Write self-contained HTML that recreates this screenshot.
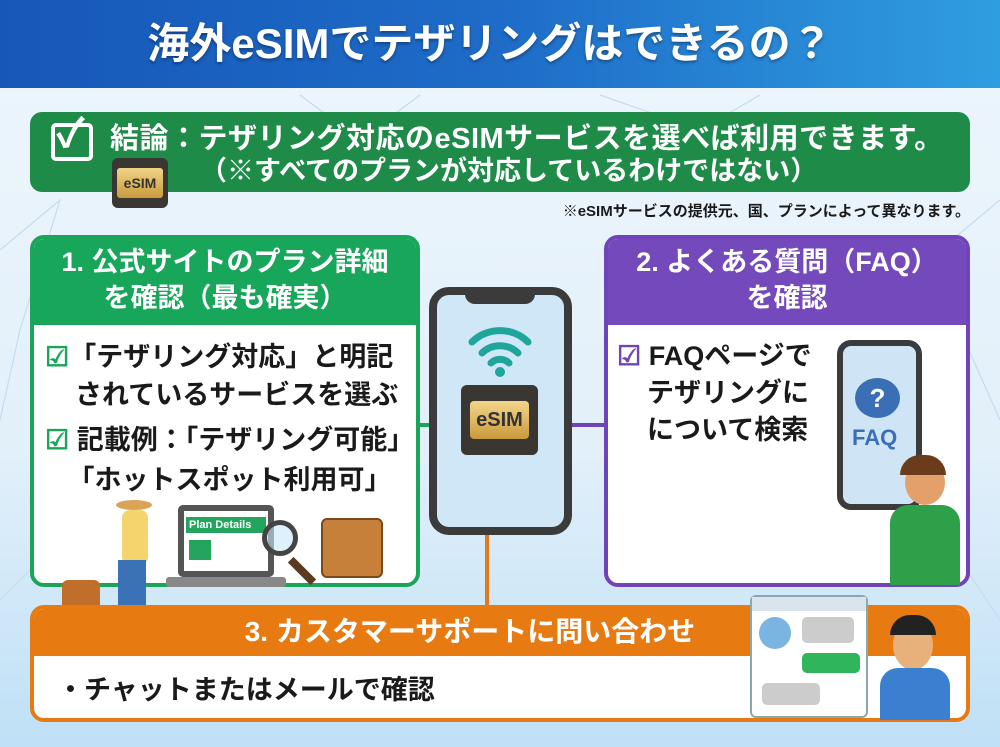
<!DOCTYPE html>
<html><head><meta charset="utf-8">
<style>
*{margin:0;padding:0;box-sizing:border-box}
body{width:1000px;height:747px;overflow:hidden;position:relative;background:linear-gradient(#eef6fc,#e2f0fa 60%,#bfe0f6);font-family:"Liberation Sans","Noto Sans CJK JP",sans-serif;font-weight:bold}
.a{position:absolute;white-space:nowrap}
.t{color:#fff}
.k{color:#1a1a1a}
</style></head><body>
<svg class="a" style="left:0;top:0" width="1000" height="747">
<g stroke="#c4dcef" stroke-width="1.2" fill="none">
<path d="M0 250 L60 200 L20 330 L0 420 M940 250 L1000 200 M960 330 L1000 420 M0 600 L40 560 M960 560 L1000 620 M300 95 L360 140 L420 95 M600 95 L700 130 L760 95"/>
</g>
</svg>
<div class="a" style="left:0;top:0;width:1000px;height:88px;background:linear-gradient(90deg,#1757b8,#1e6cc8 50%,#2f9ee0)"></div>
<div class="a t" style="left:0;top:16px;width:980px;text-align:center;font-size:42px;line-height:56px;text-shadow:0 2px 3px rgba(0,0,0,.35)">海外eSIMでテザリングはできるの？</div>

<div class="a" style="left:30px;top:112px;width:940px;height:80px;background:#1e8b48;border-radius:12px"></div>
<div class="a" style="left:51px;top:123px;width:42px;height:38px;border:4px solid #fff;border-radius:5px"></div>
<div class="a t" style="left:56px;top:110px;font-size:40px;line-height:48px">✓</div>
<div class="a t" style="left:110px;top:120px;font-size:29px;line-height:38px;letter-spacing:0.5px">結論：テザリング対応のeSIMサービスを選べば利用できます。</div>
<div class="a t" style="left:200px;top:153px;font-size:27px;line-height:36px">（※すべてのプランが対応しているわけではない）</div>
<div class="a" style="left:112px;top:158px;width:56px;height:50px;background:#3a3632;border-radius:6px"></div>
<div class="a" style="left:117px;top:168px;width:46px;height:30px;background:linear-gradient(#f1d385,#c99a3c);border-radius:3px;color:#333;font-size:14px;text-align:center;line-height:30px">eSIM</div>
<div class="a k" style="right:30px;top:201px;font-size:15px;line-height:22px">※eSIMサービスの提供元、国、プランによって異なります。</div>

<!-- connectors -->
<div class="a" style="left:410px;top:423px;width:30px;height:4px;background:#1aa55a"></div>
<div class="a" style="left:565px;top:423px;width:45px;height:4px;background:#7043b8"></div>
<div class="a" style="left:485px;top:530px;width:4px;height:80px;background:#e07a1e"></div>

<!-- box1 -->
<div class="a" style="left:30px;top:235px;width:390px;height:352px;background:#fff;border:4px solid #1aa55a;border-radius:14px;overflow:hidden">
<div style="height:86px;background:#18a65a"></div></div>
<div class="a t" style="left:30px;top:244px;width:390px;text-align:center;font-size:27px;line-height:36px">1. 公式サイトのプラン詳細<br>を確認（最も確実）</div>
<div class="a k" style="left:45px;top:338px;font-size:27px;line-height:38px"><span style="color:#18a65a">☑</span>「テザリング対応」と明記<br>&nbsp;&nbsp;&nbsp;&nbsp;されているサービスを選ぶ</div>
<div class="a k" style="left:45px;top:420px;font-size:27px;line-height:40px"><span style="color:#18a65a">☑</span> 記載例：「テザリング可能」<br>&nbsp;&nbsp;&nbsp;「ホットスポット利用可」</div>
<!-- illustrations box1 -->
<div class="a" style="left:178px;top:505px;width:96px;height:72px;background:#555;border-radius:5px"></div>
<div class="a" style="left:184px;top:511px;width:84px;height:60px;background:#fff"></div>
<div class="a t" style="left:186px;top:517px;width:80px;height:16px;background:#23a55e;font-size:11px;line-height:16px;padding-left:3px">Plan Details</div>
<div class="a" style="left:189px;top:540px;width:22px;height:20px;background:#23a55e"></div>
<div class="a" style="left:166px;top:577px;width:120px;height:10px;background:#888;border-radius:3px"></div>
<div class="a" style="left:262px;top:520px;width:36px;height:36px;border:5px solid #444;border-radius:50%;background:rgba(200,230,250,.6)"></div>
<div class="a" style="left:298px;top:555px;width:8px;height:32px;background:#5a3a20;transform:rotate(-45deg)"></div>
<div class="a" style="left:321px;top:518px;width:62px;height:60px;background:#c7803a;border-radius:6px;border:2px solid #7a4a1c"></div>
<div class="a" style="left:122px;top:510px;width:26px;height:55px;background:#f4d46c;border-radius:8px"></div>
<div class="a" style="left:116px;top:500px;width:36px;height:10px;background:#d9a455;border-radius:50%"></div>
<div class="a" style="left:118px;top:560px;width:28px;height:55px;background:#3b72b5"></div>
<div class="a" style="left:62px;top:580px;width:38px;height:48px;background:#c06f2a;border-radius:6px"></div>

<!-- phone -->
<div class="a" style="left:429px;top:287px;width:143px;height:248px;background:#cfe7f6;border:8px solid #3b3b3b;border-radius:20px"></div>
<div class="a" style="left:465px;top:290px;width:70px;height:14px;background:#3b3b3b;border-radius:0 0 10px 10px"></div>
<svg class="a" style="left:460px;top:320px" width="80" height="60"><g fill="none" stroke="#1fa59a" stroke-width="7" stroke-linecap="round"><path d="M12 22 A40 40 0 0 1 68 22"/><path d="M22 33 A26 26 0 0 1 58 33"/><path d="M31 43 A13 13 0 0 1 49 43"/></g><circle cx="40" cy="52" r="5" fill="#1fa59a"/></svg>
<div class="a" style="left:461px;top:385px;width:77px;height:70px;background:#3a3632;border-radius:6px"></div>
<div class="a" style="left:470px;top:401px;width:59px;height:38px;background:linear-gradient(#f3d68a,#c99a3c);border-radius:4px;color:#333;font-size:20px;text-align:center;line-height:38px">eSIM</div>

<!-- box2 -->
<div class="a" style="left:604px;top:235px;width:366px;height:352px;background:#fff;border:4px solid #7043b8;border-radius:14px;overflow:hidden">
<div style="height:86px;background:#7449bb"></div></div>
<div class="a t" style="left:604px;top:244px;width:366px;text-align:center;font-size:27px;line-height:36px">2. よくある質問（FAQ）<br>を確認</div>
<div class="a k" style="left:617px;top:338px;font-size:27px;line-height:37px"><span style="color:#7043b8">☑</span> FAQページで<br>&nbsp;&nbsp;&nbsp;&nbsp;テザリングに<br>&nbsp;&nbsp;&nbsp;&nbsp;について検索</div>
<div class="a" style="left:837px;top:340px;width:85px;height:170px;background:#cfe5f5;border:6px solid #3b3b3b;border-radius:14px"></div>
<div class="a" style="left:855px;top:378px;width:45px;height:40px;background:#3b6fb5;border-radius:50%;color:#fff;text-align:center;font-size:26px;line-height:40px">?</div>
<div class="a" style="left:852px;top:425px;color:#3b6fb5;font-size:22px">FAQ</div>
<div class="a" style="left:905px;top:460px;width:40px;height:45px;background:#e3a06a;border-radius:50%"></div>
<div class="a" style="left:900px;top:455px;width:46px;height:20px;background:#6a3c1c;border-radius:20px 20px 0 0"></div>
<div class="a" style="left:890px;top:505px;width:70px;height:80px;background:#2fa04a;border-radius:18px 18px 0 0"></div>

<!-- box3 -->
<div class="a" style="left:30px;top:605px;width:940px;height:117px;background:#fff;border:4px solid #e87a12;border-radius:14px;overflow:hidden">
<div style="height:47px;background:#e87a12"></div></div>
<div class="a t" style="left:30px;top:612px;width:880px;text-align:center;font-size:28px;line-height:40px">3. カスタマーサポートに問い合わせ</div>
<div class="a k" style="left:57px;top:670px;font-size:27px;line-height:40px">・チャットまたはメールで確認</div>
<div class="a" style="left:750px;top:595px;width:118px;height:123px;background:#fff;border:2px solid #8aa;border-radius:6px"></div>
<div class="a" style="left:752px;top:597px;width:114px;height:14px;background:#dbe4ec"></div>
<div class="a" style="left:759px;top:617px;width:32px;height:32px;background:#7ab4e0;border-radius:50%"></div>
<div class="a" style="left:802px;top:617px;width:52px;height:26px;background:#ccc;border-radius:5px"></div>
<div class="a" style="left:802px;top:653px;width:58px;height:20px;background:#2fb55a;border-radius:5px"></div>
<div class="a" style="left:762px;top:683px;width:58px;height:22px;background:#ccc;border-radius:5px"></div>
<div class="a" style="left:893px;top:620px;width:40px;height:50px;background:#e8b07a;border-radius:50%"></div>
<div class="a" style="left:890px;top:615px;width:46px;height:20px;background:#222;border-radius:20px 20px 0 0"></div>
<div class="a" style="left:880px;top:668px;width:70px;height:52px;background:#3a7fd0;border-radius:18px 18px 0 0"></div>
</body></html>
